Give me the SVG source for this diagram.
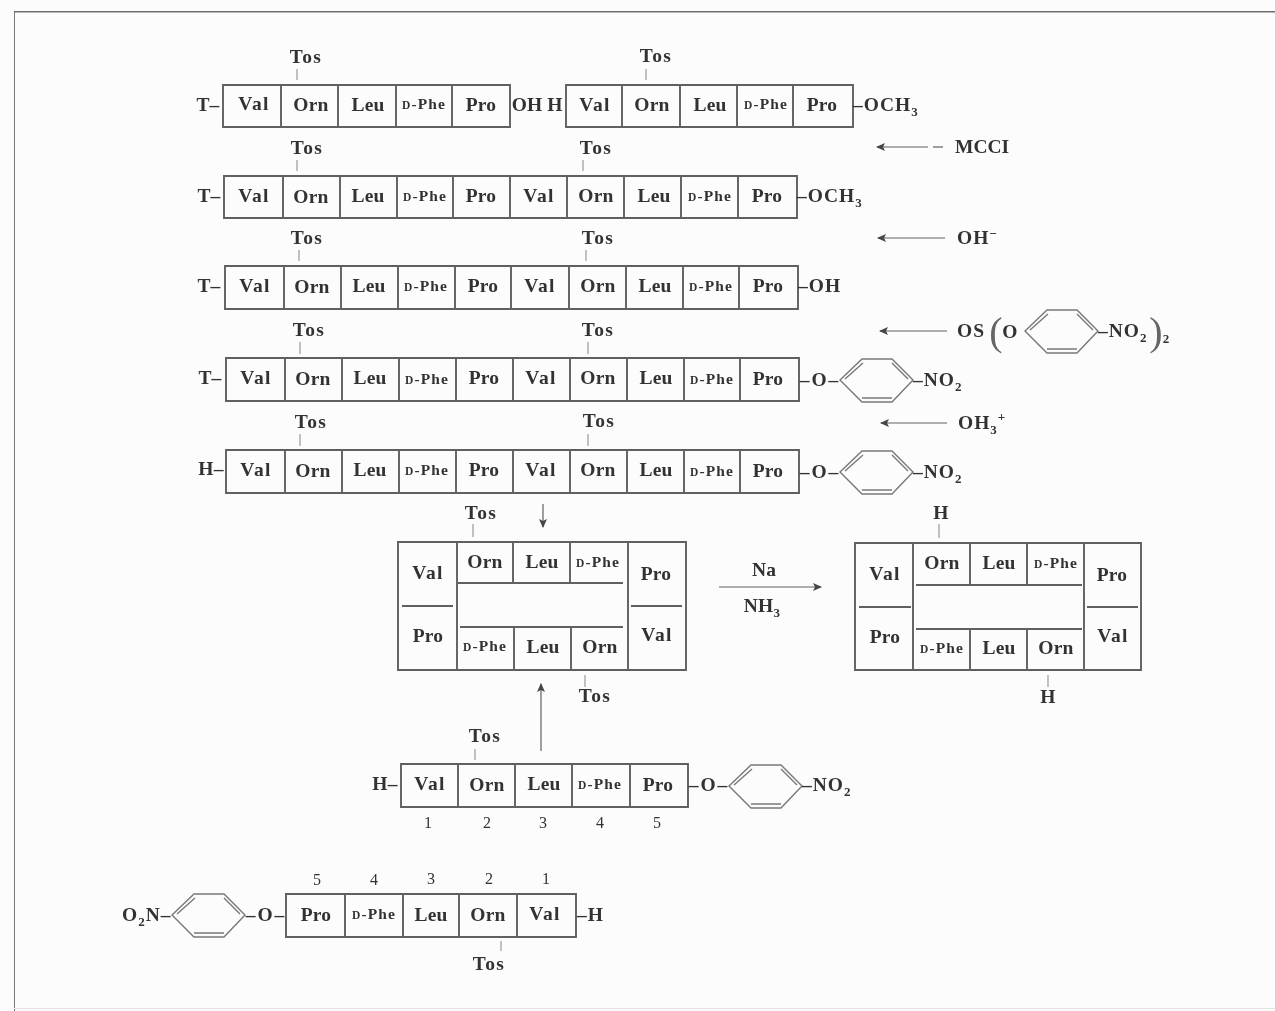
<svg xmlns="http://www.w3.org/2000/svg" width="1275" height="1011" viewBox="0 0 1275 1011">
<style>
text{font-family:"Liberation Serif","DejaVu Serif",serif;font-weight:700;font-size:19.500px;letter-spacing:.2px;fill:#333;text-anchor:middle}
.l{text-anchor:start;letter-spacing:1px}
.t{letter-spacing:1.300px}
.o{letter-spacing:2px}
.z{text-anchor:start;letter-spacing:0}
.d{font-size:15.500px;letter-spacing:1.100px}
.m{font-size:11.500px}
.s{font-size:13px}
.n{font-size:16px;font-weight:400;letter-spacing:0}
.b{fill:none;stroke:#606060;stroke-width:1.900}
.r{fill:none;stroke:#787878;stroke-width:1.400}
.k{stroke:#999;stroke-width:1.200}
.a{stroke:#606060;stroke-width:1.200;fill:none}
.f{font-weight:400;font-size:40px;fill:#666;letter-spacing:0}
</style>
<defs>
<filter id="soft" x="0" y="0" width="100%" height="100%"><feGaussianBlur stdDeviation=".35"/></filter>
<marker id="ah" markerWidth="9" markerHeight="8" refX="8" refY="4" orient="auto" markerUnits="userSpaceOnUse"><path d="M0 0L9 4L0 8L2 4Z" fill="#444"/></marker>
<g id="ring"><path class="r" d="M0 0L22 -21H52L73 0L52 22H22Z"/><path class="r" d="M5 -1L23 -17M52 -17L68 -1M22 18H52"/></g>
</defs>
<rect width="1275" height="1011" fill="#fcfcfc"/>
<g filter="url(#soft)">
<path d="M14 1011V11.500H1275" fill="none" stroke="#6e6e6e" stroke-width="1.800"/>
<path d="M14 1008.500H1275" fill="none" stroke="#e4e4e4" stroke-width="1"/>

<g id="connectors">
<path class="k" d="M297 69V80M646 69V80M297 160V171M583 160V171M299 250V261M586 250V261M300 342V354M588 342V354M300 434V446M588 434V446M473 524V537M939 524V538M585 675V687M1048 675V687M475 749V760M501 941V951"/>
<path class="a" marker-end="url(#ah)" d="M928 147H877"/><path class="a" d="M933 147H943"/>
<path class="a" marker-end="url(#ah)" d="M945 238H878"/>
<path class="a" marker-end="url(#ah)" d="M947 331H880"/>
<path class="a" marker-end="url(#ah)" d="M947 423H881"/>
<path class="a" marker-end="url(#ah)" d="M543 504V527"/>
<path class="a" marker-end="url(#ah)" d="M541 751V684"/>
<path class="a" marker-end="url(#ah)" d="M719 587H821"/>
</g>

<g id="node-row1-left">
<path class="b" d="M223 85H510V127H223ZM281 85V127M338 85V127M396 85V127M452 85V127"/>
<text x="208" y="111">T–</text><text class="t" x="254" y="110">Val</text><text x="311" y="111">Orn</text><text x="368" y="111">Leu</text><text class="d" x="424" y="109"><tspan class="m">D</tspan>-Phe</text><text x="481" y="111">Pro</text><text x="527" y="111">OH</text><text x="555" y="111">H</text>
<text class="t" x="306" y="63">Tos</text>
</g>
<g id="node-row1-right">
<path class="b" d="M566 85H853V127H566ZM622 85V127M680 85V127M737 85V127M793 85V127"/>
<text class="t" x="595" y="111">Val</text><text x="652" y="111">Orn</text><text x="710" y="111">Leu</text><text class="d" x="766" y="109"><tspan class="m">D</tspan>-Phe</text><text x="822" y="111">Pro</text>
<text class="l" x="853" y="111">–OCH<tspan class="s" dy="5">3</tspan></text>
<text class="t" x="656" y="62">Tos</text>
</g>
<g id="node-row2">
<path class="b" d="M224 176H797V218H224ZM283 176V218M340 176V218M397 176V218M453 176V218M510 176V218M567 176V218M624 176V218M681 176V218M738 176V218"/>
<text x="209" y="202">T–</text><text class="t" x="254" y="202">Val</text><text x="311" y="203">Orn</text><text x="368" y="202">Leu</text><text class="d" x="425" y="201"><tspan class="m">D</tspan>-Phe</text><text x="481" y="202">Pro</text><text class="t" x="539" y="202">Val</text><text x="596" y="202">Orn</text><text x="654" y="202">Leu</text><text class="d" x="710" y="201"><tspan class="m">D</tspan>-Phe</text><text x="767" y="202">Pro</text>
<text class="l" x="797" y="202">–OCH<tspan class="s" dy="5">3</tspan></text>
<text class="t" x="307" y="154">Tos</text><text class="t" x="596" y="154">Tos</text>
</g>
<g id="node-row3">
<path class="b" d="M225 266H798V309H225ZM284 266V309M341 266V309M398 266V309M455 266V309M511 266V309M569 266V309M626 266V309M683 266V309M739 266V309"/>
<text x="209" y="292">T–</text><text class="t" x="255" y="292">Val</text><text x="312" y="293">Orn</text><text x="369" y="292">Leu</text><text class="d" x="426" y="291"><tspan class="m">D</tspan>-Phe</text><text x="483" y="292">Pro</text><text class="t" x="540" y="292">Val</text><text x="598" y="292">Orn</text><text x="655" y="292">Leu</text><text class="d" x="711" y="291"><tspan class="m">D</tspan>-Phe</text><text x="768" y="292">Pro</text>
<text class="l" x="798" y="292">–OH</text>
<text class="t" x="307" y="244">Tos</text><text class="t" x="598" y="244">Tos</text>
</g>
<g id="node-row4">
<path class="b" d="M226 358H799V401H226ZM285 358V401M342 358V401M399 358V401M456 358V401M513 358V401M570 358V401M627 358V401M684 358V401M740 358V401"/>
<text x="210" y="384">T–</text><text class="t" x="256" y="384">Val</text><text x="313" y="385">Orn</text><text x="370" y="384">Leu</text><text class="d" x="427" y="384"><tspan class="m">D</tspan>-Phe</text><text x="484" y="384">Pro</text><text class="t" x="541" y="384">Val</text><text x="598" y="384">Orn</text><text x="656" y="384">Leu</text><text class="d" x="712" y="384"><tspan class="m">D</tspan>-Phe</text><text x="768" y="385">Pro</text>
<text class="o" x="820" y="386">–O–</text><use href="#ring" x="840" y="380"/>
<text class="l" x="913" y="386">–NO<tspan class="s" dy="5">2</tspan></text>
<text class="t" x="309" y="336">Tos</text><text class="t" x="598" y="336">Tos</text>
</g>
<g id="node-row5">
<path class="b" d="M226 450H799V493H226ZM285 450V493M342 450V493M399 450V493M456 450V493M513 450V493M570 450V493M627 450V493M684 450V493M740 450V493"/>
<text x="211" y="475">H–</text><text class="t" x="256" y="476">Val</text><text x="313" y="477">Orn</text><text x="370" y="476">Leu</text><text class="d" x="427" y="475"><tspan class="m">D</tspan>-Phe</text><text x="484" y="476">Pro</text><text class="t" x="541" y="476">Val</text><text x="598" y="476">Orn</text><text x="656" y="476">Leu</text><text class="d" x="712" y="476"><tspan class="m">D</tspan>-Phe</text><text x="768" y="477">Pro</text>
<text class="o" x="820" y="478">–O–</text><use href="#ring" x="840" y="472"/>
<text class="l" x="913" y="478">–NO<tspan class="s" dy="5">2</tspan></text>
<text class="t" x="311" y="428">Tos</text><text class="t" x="599" y="427">Tos</text>
</g>
<g id="node-cycle-tos">
<path class="b" d="M398 542H686V670H398ZM457 542V670M628 542V670M513 542V583M570 542V583M514 627V670M571 627V670M458 583H623M460 627H623M402 606H453M631 606H682"/>
<text class="t" x="428" y="579">Val</text><text x="485" y="568">Orn</text><text x="542" y="568">Leu</text><text class="d" x="598" y="567"><tspan class="m">D</tspan>-Phe</text><text x="656" y="580">Pro</text>
<text x="428" y="642">Pro</text><text class="d" x="485" y="651"><tspan class="m">D</tspan>-Phe</text><text x="543" y="653">Leu</text><text x="600" y="653">Orn</text><text class="t" x="657" y="641">Val</text>
<text class="t" x="481" y="519">Tos</text><text class="t" x="595" y="702">Tos</text>
</g>
<g id="node-reagent-na"><text x="764" y="576">Na</text><text x="762" y="612">NH<tspan class="s" dy="5">3</tspan></text></g>
<g id="node-cycle-h">
<path class="b" d="M855 543H1141V670H855ZM913 543V670M1084 543V670M970 543V585M1027 543V585M970 629V670M1027 629V670M916 585H1082M916 629H1082M859 607H911M1087 607H1138"/>
<text class="t" x="885" y="580">Val</text><text x="942" y="569">Orn</text><text x="999" y="569">Leu</text><text class="d" x="1056" y="568"><tspan class="m">D</tspan>-Phe</text><text x="1112" y="581">Pro</text>
<text x="885" y="643">Pro</text><text class="d" x="942" y="653"><tspan class="m">D</tspan>-Phe</text><text x="999" y="654">Leu</text><text x="1056" y="654">Orn</text><text class="t" x="1113" y="642">Val</text>
<text x="941" y="519">H</text><text x="1048" y="703">H</text>
</g>
<g id="node-monomer-a">
<path class="b" d="M401 764H688V807H401ZM458 764V807M515 764V807M572 764V807M630 764V807"/>
<text x="385" y="790">H–</text><text class="t" x="430" y="790">Val</text><text x="487" y="791">Orn</text><text x="544" y="790">Leu</text><text class="d" x="600" y="789"><tspan class="m">D</tspan>-Phe</text><text x="658" y="791">Pro</text>
<text class="o" x="709" y="791">–O–</text><use href="#ring" x="729" y="786"/>
<text class="l" x="802" y="791">–NO<tspan class="s" dy="5">2</tspan></text>
<text class="t" x="485" y="742">Tos</text>
<text class="n" x="428" y="828">1</text><text class="n" x="487" y="828">2</text><text class="n" x="543" y="828">3</text><text class="n" x="600" y="828">4</text><text class="n" x="657" y="828">5</text>
</g>
<g id="node-monomer-b">
<path class="b" d="M286 894H576V937H286ZM345 894V937M403 894V937M459 894V937M517 894V937"/>
<text x="316" y="921">Pro</text><text class="d" x="374" y="919"><tspan class="m">D</tspan>-Phe</text><text x="431" y="921">Leu</text><text x="488" y="921">Orn</text><text class="t" x="545" y="920">Val</text>
<text class="l" x="122" y="921">O<tspan class="s" dy="5">2</tspan><tspan dy="-5">N–</tspan></text><use href="#ring" x="172" y="915"/>
<text class="o" x="266" y="921">–O–</text><text class="l" x="577" y="921">–H</text>
<text class="t" x="489" y="970">Tos</text>
<text class="n" x="317" y="885">5</text><text class="n" x="374" y="885">4</text><text class="n" x="431" y="884">3</text><text class="n" x="489" y="884">2</text><text class="n" x="546" y="884">1</text>
</g>
<g id="node-reagents">
<text class="z" x="955" y="153">MCCI</text>
<text class="l" x="957" y="244">OH<tspan class="s" dy="-6">−</tspan></text>
<text class="l" x="957" y="337">OS</text><text class="f" x="996" y="345">(</text><text x="1010" y="338">O</text><use href="#ring" x="1025" y="331"/>
<text class="l" x="1098" y="337">–NO<tspan class="s" dy="5">2</tspan></text><text class="f" x="1156" y="345">)</text><text class="s" x="1166" y="343">2</text>
<text class="l" x="958" y="429">OH<tspan class="s" dy="5">3</tspan><tspan class="s" dy="-13">+</tspan></text>
</g>
</g>
</svg>
